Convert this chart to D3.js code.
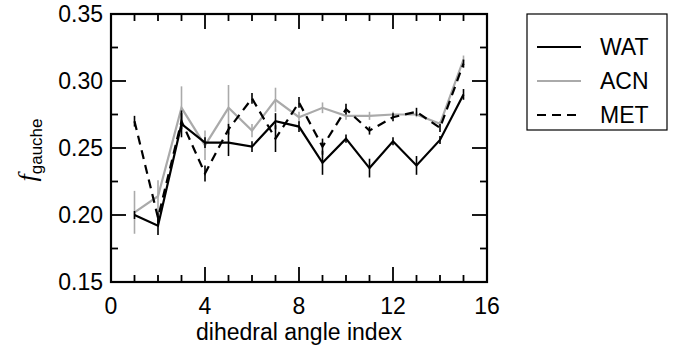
<!DOCTYPE html>
<html>
<head>
<meta charset="utf-8">
<script src="https://cdn.jsdelivr.net/npm/d3@7"></script>
<style>
  body { margin: 0; background: #fff; }
  text { font-family: "Liberation Sans", Arial, sans-serif; fill: #000; }
</style>
</head>
<body>
<div class="graph"></div>
<script>
const width = 673,
      height = 347;

const margin = { left: 111, right: 185, top: 14, bottom: 65 };

// dihedral angle index
const idx = [1, 2, 3, 4, 5, 6, 7, 8, 9, 10, 11, 12, 13, 14, 15];

const watVal = [0.200, 0.192, 0.268, 0.254, 0.254, 0.251, 0.270, 0.266, 0.239, 0.257, 0.235, 0.255, 0.237, 0.256, 0.290];
const watErr = [0.003, 0.007, 0.010, 0.004, 0.010, 0.004, 0.006, 0.004, 0.009, 0.003, 0.007, 0.003, 0.007, 0.003, 0.004];

const acnVal = [0.202, 0.214, 0.280, 0.252, 0.280, 0.263, 0.286, 0.273, 0.280, 0.274, 0.274, 0.275, 0.275, 0.268, 0.316];
const acnErr = [0.016, 0.012, 0.016, 0.011, 0.017, 0.005, 0.009, 0.004, 0.004, 0.003, 0.003, 0.002, 0.002, 0.002, 0.003];

const metVal = [0.270, 0.198, 0.270, 0.231, 0.264, 0.287, 0.257, 0.284, 0.251, 0.279, 0.263, 0.273, 0.277, 0.265, 0.313];
const metErr = [0.004, 0.004, 0.006, 0.006, 0.004, 0.004, 0.010, 0.004, 0.006, 0.004, 0.003, 0.003, 0.003, 0.003, 0.003];

const xTicks = [0, 4, 8, 12, 16];
const yTicks = [0.15, 0.20, 0.25, 0.30, 0.35];

const seriesNames = ["WAT", "ACN", "MET"];

const series = [
  { name: seriesNames[0], vals: watVal, errs: watErr, color: "#000", dash: null },
  { name: seriesNames[1], vals: acnVal, errs: acnErr, color: "#aaaaaa", dash: null },
  { name: seriesNames[2], vals: metVal, errs: metErr, color: "#000", dash: "9,6" }
];

const fs = 23;

const x = d3.scaleLinear().domain([0, 16]).range([margin.left, width - margin.right - 1]);
const y = d3.scaleLinear().domain([0.15, 0.35]).range([height - margin.bottom, margin.top]);

const svg = d3.select(".graph")
  .append("svg")
  .attr("width", width)
  .attr("height", height);

// data: error bars then lines, grey first so black sits on top
const order = [1, 0, 2];
order.forEach(k => {
  const s = series[k];
  const g = svg.append("g");
  g.selectAll("line.err")
    .data(idx)
    .enter()
    .append("line")
    .attr("x1", (d) => x(d))
    .attr("x2", (d) => x(d))
    .attr("y1", (d, i) => y(s.vals[i] - s.errs[i]))
    .attr("y2", (d, i) => y(s.vals[i] + s.errs[i]))
    .attr("stroke", s.color)
    .attr("stroke-width", 1.6);

  const line = d3.line()
    .x((d) => x(d))
    .y((d, i) => y(s.vals[i]));

  g.append("path")
    .datum(idx)
    .attr("d", line)
    .attr("fill", "none")
    .attr("stroke", s.color)
    .attr("stroke-width", 2.2)
    .attr("stroke-linejoin", "miter")
    .attr("stroke-dasharray", s.dash);
});

// frame
svg.append("rect")
  .attr("x", x(0))
  .attr("y", y(0.35))
  .attr("width", x(16) - x(0))
  .attr("height", y(0.15) - y(0.35))
  .attr("fill", "none")
  .attr("stroke", "#000")
  .attr("stroke-width", 2.2);

// ticks, pointing inwards on all four sides
const xMinor = d3.range(0, 17, 1);
const yMinor = d3.range(0.15, 0.3501, 0.025);

function tickLen(isMajor) { return isMajor ? 15 : 7; }

xMinor.forEach(v => {
  const major = v % 4 === 0;
  svg.append("line")
    .attr("x1", x(v)).attr("x2", x(v))
    .attr("y1", y(0.15)).attr("y2", y(0.15) - tickLen(major))
    .attr("stroke", "#000").attr("stroke-width", 1.8);
  svg.append("line")
    .attr("x1", x(v)).attr("x2", x(v))
    .attr("y1", y(0.35)).attr("y2", y(0.35) + tickLen(major))
    .attr("stroke", "#000").attr("stroke-width", 1.8);
});

yMinor.forEach((v, i) => {
  const major = i % 2 === 0;
  svg.append("line")
    .attr("x1", x(0)).attr("x2", x(0) + tickLen(major))
    .attr("y1", y(v)).attr("y2", y(v))
    .attr("stroke", "#000").attr("stroke-width", 1.8);
  svg.append("line")
    .attr("x1", x(16)).attr("x2", x(16) - tickLen(major))
    .attr("y1", y(v)).attr("y2", y(v))
    .attr("stroke", "#000").attr("stroke-width", 1.8);
});

// tick labels
svg.selectAll("text.xl")
  .data(xTicks)
  .enter()
  .append("text")
  .attr("x", (d) => x(d))
  .attr("y", y(0.15) + 32)
  .attr("text-anchor", "middle")
  .attr("font-size", fs)
  .text((d) => d);

svg.selectAll("text.yl")
  .data(yTicks)
  .enter()
  .append("text")
  .attr("x", x(0) - 8)
  .attr("y", (d) => y(d) + 8)
  .attr("text-anchor", "end")
  .attr("font-size", fs)
  .text((d) => d.toFixed(2));

// axis titles
svg.append("text")
  .attr("x", (x(0) + x(16)) / 2)
  .attr("y", 340)
  .attr("text-anchor", "middle")
  .attr("font-size", fs)
  .text("dihedral angle index");

const yt = svg.append("text")
  .attr("transform", `translate(36, ${(y(0.15) + y(0.35)) / 2 + 2}) rotate(-90)`)
  .attr("text-anchor", "middle")
  .attr("font-size", 26);
yt.append("tspan")
  .attr("font-family", "'Liberation Serif', 'Times New Roman', serif")
  .attr("font-style", "italic")
  .text("f");
yt.append("tspan")
  .attr("font-size", 17)
  .attr("dy", 6)
  .text("gauche");

// legend
const legend = svg.append("g");
legend.append("rect")
  .attr("x", 527)
  .attr("y", 14)
  .attr("width", 140)
  .attr("height", 116)
  .attr("fill", "#fff")
  .attr("stroke", "#000")
  .attr("stroke-width", 1.2);

series.forEach((s, i) => {
  const ly = 47 + i * 34;
  legend.append("line")
    .attr("x1", 537).attr("x2", 581)
    .attr("y1", ly).attr("y2", ly)
    .attr("stroke", s.color)
    .attr("stroke-width", 2.2)
    .attr("stroke-dasharray", s.dash);
  legend.append("text")
    .attr("x", 600)
    .attr("y", ly + 8)
    .attr("font-size", fs)
    .text(s.name);
});
</script>
</body>
</html>
